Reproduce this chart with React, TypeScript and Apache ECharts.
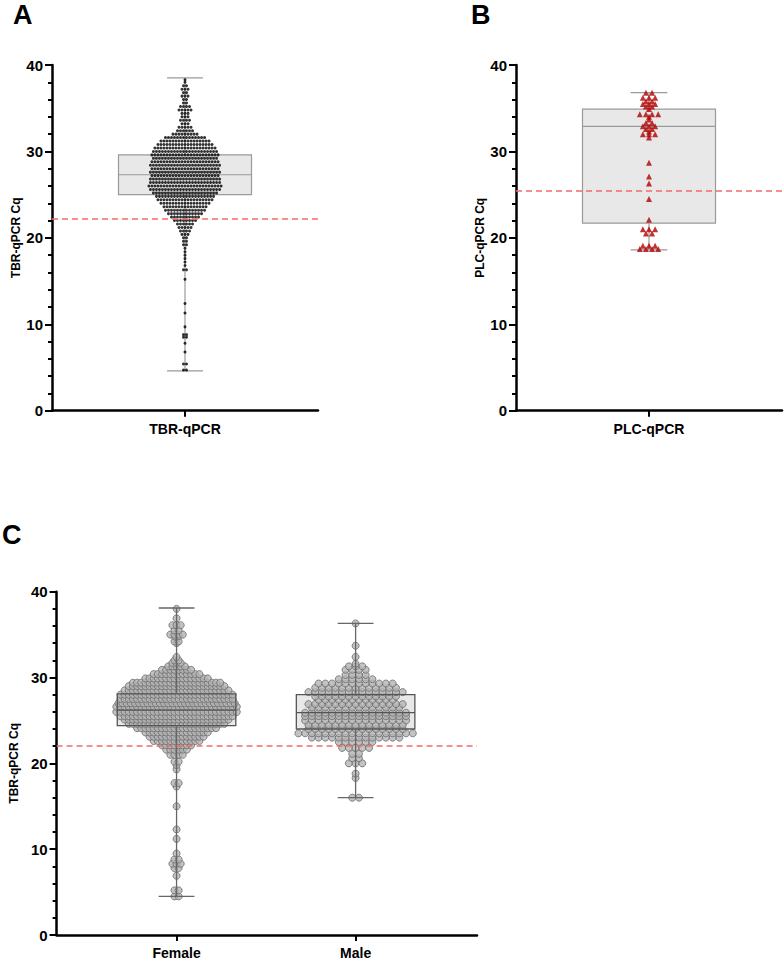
import React, { useEffect, useRef } from "react";
import * as echarts from "echarts";

// ---------- Data ----------
const A_CATEGORIES = ["TBR-qPCR"];
const B_CATEGORIES = ["PLC-qPCR"];
const C_CATEGORIES = ["Female", "Male"];

// Panel A: TBR-qPCR Cq values, binned rows (value level, number of points)
const A_LEVELS = [4.7, 5.4, 6.8, 7.8, 8.5, 8.8, 9.7, 11.3, 12.4, 15.2, 16.3, 16.8, 17.2, 17.6, 18.0, 18.4, 18.8, 19.2, 19.6, 20.0, 20.4, 20.8, 21.2, 21.6, 22.0, 22.4, 22.8, 23.2, 23.6, 24.0, 24.4, 24.8, 25.2, 25.6, 26.0, 26.4, 26.8, 27.2, 27.6, 28.0, 28.4, 28.8, 29.2, 29.6, 30.0, 30.4, 30.8, 31.2, 31.6, 32.0, 32.4, 32.8, 33.2, 33.6, 34.0, 34.4, 34.8, 35.2, 35.6, 36.0, 36.4, 36.8, 37.2, 37.6, 38.0, 38.3];
const A_COUNTS = [2, 2, 1, 1, 2, 2, 1, 1, 1, 1, 2, 1, 1, 1, 1, 1, 1, 2, 2, 2, 3, 4, 5, 6, 8, 10, 12, 14, 15, 17, 19, 20, 22, 24, 25, 24, 24, 23, 24, 23, 24, 23, 22, 23, 22, 21, 19, 17, 14, 9, 6, 5, 3, 4, 3, 3, 5, 4, 2, 2, 3, 2, 3, 2, 1, 1];
// [min, Q1, median, Q3, max]
const A_BOX = [4.6, 25.0, 27.3, 29.6, 38.5];
const A_CUTOFF = 22.2;

// Panel B: PLC-qPCR Cq values
const B_LEVELS = [18.7, 19.1, 20.5, 21.0, 22.1, 24.5, 26.3, 27.1, 28.7, 31.6, 32.0, 32.3, 32.6, 32.9, 33.3, 33.7, 34.0, 34.3, 34.9, 35.2, 35.5, 35.8, 36.2, 36.8];
const B_COUNTS = [4, 3, 2, 3, 1, 1, 1, 1, 1, 1, 3, 1, 2, 3, 2, 1, 1, 4, 1, 2, 3, 2, 3, 2];
const B_BOX = [18.6, 21.7, 32.9, 34.9, 36.8];
const B_CUTOFF = 25.5;

// Panel C: TBR-qPCR Cq by sex
const F_LEVELS = [4.5, 5.2, 6.9, 7.8, 8.3, 8.8, 9.5, 11.2, 12.3, 15.0, 17.3, 17.7, 19.3, 19.8, 20.2, 21.0, 21.6, 22.1, 22.6, 23.1, 23.6, 24.1, 24.6, 25.1, 25.5, 26.0, 26.6, 27.0, 27.5, 28.0, 28.5, 29.0, 29.4, 29.9, 30.4, 30.9, 31.3, 31.7, 32.0, 32.4, 34.0, 34.2, 34.8, 35.0, 35.5, 36.1, 36.9, 38.0];
const F_COUNTS = [2, 2, 1, 2, 3, 2, 1, 1, 1, 1, 1, 2, 1, 1, 2, 4, 6, 8, 12, 14, 16, 20, 24, 26, 28, 30, 30, 29, 28, 28, 26, 24, 22, 16, 12, 8, 5, 3, 2, 1, 1, 2, 2, 4, 2, 3, 1, 1];
const F_BOX = [4.5, 24.4, 26.2, 28.1, 38.1];

const M_LEVELS = [16.0, 18.3, 18.8, 20.0, 20.6, 21.1, 21.8, 22.5, 23.0, 23.5, 24.0, 24.5, 25.0, 25.5, 25.9, 26.5, 26.9, 27.4, 27.8, 28.3, 28.8, 29.3, 29.8, 30.3, 30.9, 31.3, 31.6, 32.4, 33.7, 36.3];
const M_COUNTS = [2, 1, 1, 3, 2, 2, 5, 6, 14, 18, 15, 15, 16, 16, 16, 14, 15, 12, 13, 15, 13, 12, 6, 4, 4, 3, 1, 1, 1, 1];
const M_BOX = [16.0, 24.0, 25.9, 28.0, 36.3];
const C_CUTOFF = 22.1;

// ---------- helpers ----------
const FONT = '"Liberation Sans", Arial, Helvetica, sans-serif';

function swarm(levels: number[], counts: number[], center: number, step: number) {
  const pts: number[][] = [];
  levels.forEach((v, i) => {
    const n = counts[i];
    for (let k = 0; k < n; k++) {
      pts.push([center + (k - (n - 1) / 2) * step, v]);
    }
  });
  return pts;
}

function boxRender(halfW: number, capHalf: number, o: any) {
  return (params: any, api: any) => {
    const x = api.value(0);
    const lo = api.value(1), q1 = api.value(2), med = api.value(3), q3 = api.value(4), hi = api.value(5);
    const tl = api.coord([x - halfW, q3]);
    const br = api.coord([x + halfW, q1]);
    const children: any[] = [];
    if (o.fill) {
      children.push({
        type: "rect",
        shape: { x: tl[0], y: tl[1], width: br[0] - tl[0], height: br[1] - tl[1] },
        style: { fill: o.fill, stroke: null },
      });
    }
    if (o.stroke) {
      const ls = { stroke: o.stroke, lineWidth: o.lw, fill: null };
      const ws = { stroke: o.whisker, lineWidth: o.lw, fill: null };
      children.push({
        type: "rect",
        shape: { x: tl[0], y: tl[1], width: br[0] - tl[0], height: br[1] - tl[1] },
        style: ls,
      });
      const mL = api.coord([x - halfW, med]);
      const mR = api.coord([x + halfW, med]);
      children.push({ type: "line", shape: { x1: mL[0], y1: mL[1], x2: mR[0], y2: mR[1] }, style: ls });
      const pq3 = api.coord([x, q3]);
      const phi = api.coord([x, hi]);
      const pq1 = api.coord([x, q1]);
      const plo = api.coord([x, lo]);
      children.push({ type: "line", shape: { x1: pq3[0], y1: pq3[1], x2: phi[0], y2: phi[1] }, style: ws });
      children.push({ type: "line", shape: { x1: pq1[0], y1: pq1[1], x2: plo[0], y2: plo[1] }, style: ws });
      const cHL = api.coord([x - capHalf, hi]);
      const cHR = api.coord([x + capHalf, hi]);
      const cLL = api.coord([x - capHalf, lo]);
      const cLR = api.coord([x + capHalf, lo]);
      children.push({ type: "line", shape: { x1: cHL[0], y1: cHL[1], x2: cHR[0], y2: cHR[1] }, style: ws });
      children.push({ type: "line", shape: { x1: cLL[0], y1: cLL[1], x2: cLR[0], y2: cLR[1] }, style: ws });
    }
    return { type: "group", children };
  };
}

function makeXAxis(grid: number, min: number, max: number, cats: string[]) {
  const vals = cats.map((_, i) => i);
  return {
    type: "value",
    gridIndex: grid,
    min,
    max,
    axisLine: { show: true, onZero: false, lineStyle: { color: "#000", width: 2.5 } },
    axisTick: { show: true, customValues: vals, length: 6, lineStyle: { color: "#000", width: 2 } },
    axisLabel: {
      customValues: vals,
      formatter: (v: number) => cats[Math.round(v)] ?? "",
      fontWeight: "bold",
      fontSize: 14,
      color: "#000",
      fontFamily: FONT,
      margin: 11,
    },
    splitLine: { show: false },
  };
}

function makeYAxis(grid: number, name: string) {
  return {
    type: "value",
    gridIndex: grid,
    min: 0,
    max: 40,
    interval: 10,
    name,
    nameLocation: "middle",
    nameGap: 30,
    nameTextStyle: { fontWeight: "bold", fontSize: 12, color: "#000", fontFamily: FONT },
    axisLine: { show: true, onZero: false, lineStyle: { color: "#000", width: 2.5 } },
    axisTick: { show: true, length: 7, lineStyle: { color: "#000", width: 2 } },
    minorTick: { show: true, splitNumber: 5, length: 4, lineStyle: { color: "#000", width: 2 } },
    axisLabel: { fontWeight: "bold", fontSize: 15, color: "#000", fontFamily: FONT, margin: 9 },
    splitLine: { show: false },
    minorSplitLine: { show: false },
  };
}

function cutoffLine(v: number) {
  return {
    silent: true,
    symbol: ["none", "none"],
    label: { show: false },
    lineStyle: { color: "#f26b6b", width: 1.5, type: [6, 4] },
    data: [{ yAxis: v }],
  };
}

export default function App() {
  const ref = useRef<HTMLDivElement>(null);
  useEffect(() => {
    document.body.style.margin = "0";
    if (!ref.current) return;
    const chart = echarts.init(ref.current, undefined, { renderer: "svg" });

    const aStep = 0.0226; // x spacing between dots (axis units)
    const bStep = 0.046;
    const fStep = 0.0232;
    const mStep = 0.0376;

    const option: any = {
      animation: false,
      backgroundColor: "#fff",
      textStyle: { fontFamily: FONT },
      grid: [
        { left: 52, top: 65, width: 266, height: 345.7 },
        { left: 516, top: 65, width: 266, height: 345.7 },
        { left: 52, top: 591.7, width: 425, height: 344 },
      ],
      xAxis: [
        makeXAxis(0, -1, 1, A_CATEGORIES),
        makeXAxis(1, -1, 1, B_CATEGORIES),
        makeXAxis(2, -0.67, 1.678, C_CATEGORIES),
      ],
      yAxis: [
        makeYAxis(0, "TBR-qPCR Cq"),
        makeYAxis(1, "PLC-qPCR Cq"),
        makeYAxis(2, "TBR-qPCR Cq"),
      ],
      graphic: [
        { type: "text", left: 13, top: 1, style: { text: "A", fontSize: 27, fontWeight: "bold", fontFamily: FONT, fill: "#000" } },
        { type: "text", left: 471, top: 1, style: { text: "B", fontSize: 27, fontWeight: "bold", fontFamily: FONT, fill: "#000" } },
        { type: "text", left: 2, top: 521, style: { text: "C", fontSize: 27, fontWeight: "bold", fontFamily: FONT, fill: "#000" } },
      ],
      series: [
        // Panel A
        {
          type: "custom",
          xAxisIndex: 0,
          yAxisIndex: 0,
          z: 1,
          renderItem: boxRender(0.5, 0.135, { fill: "#e8e8e8", stroke: "#9a9a9a", whisker: "#9a9a9a", lw: 1.2 }),
          encode: { x: 0, y: [1, 2, 3, 4, 5] },
          data: [[0, ...A_BOX]],
        },
        {
          type: "scatter",
          xAxisIndex: 0,
          yAxisIndex: 0,
          z: 2,
          symbol: "circle",
          symbolSize: 3,
          itemStyle: { color: "#000" },
          data: swarm(A_LEVELS, A_COUNTS, 0, aStep),
          markLine: cutoffLine(A_CUTOFF),
        },
        // Panel B
        {
          type: "custom",
          xAxisIndex: 1,
          yAxisIndex: 1,
          z: 1,
          renderItem: boxRender(0.5, 0.138, { fill: "#e8e8e8", stroke: "#9a9a9a", whisker: "#9a9a9a", lw: 1.2 }),
          encode: { x: 0, y: [1, 2, 3, 4, 5] },
          data: [[0, ...B_BOX]],
        },
        {
          type: "scatter",
          xAxisIndex: 1,
          yAxisIndex: 1,
          z: 2,
          symbol: "triangle",
          symbolSize: 6,
          itemStyle: { color: "#b00000" },
          data: swarm(B_LEVELS, B_COUNTS, 0, bStep),
          markLine: cutoffLine(B_CUTOFF),
        },
        // Panel C
        {
          type: "custom",
          xAxisIndex: 2,
          yAxisIndex: 2,
          z: 1,
          renderItem: boxRender(0.331, 0.1, { fill: "#e8e8e8" }),
          encode: { x: 0, y: [1, 2, 3, 4, 5] },
          data: [[0, ...F_BOX], [1, ...M_BOX]],
        },
        {
          type: "scatter",
          xAxisIndex: 2,
          yAxisIndex: 2,
          z: 2,
          symbol: "circle",
          symbolSize: 7,
          itemStyle: { color: "#b4b4b4", borderColor: "#6a6a6a", borderWidth: 1 },
          data: swarm(F_LEVELS, F_COUNTS, 0, fStep).concat(swarm(M_LEVELS, M_COUNTS, 1, mStep)),
        },
        {
          type: "custom",
          xAxisIndex: 2,
          yAxisIndex: 2,
          z: 3,
          renderItem: boxRender(0.331, 0.1, { stroke: "#555", whisker: "#666", lw: 1.3 }),
          encode: { x: 0, y: [1, 2, 3, 4, 5] },
          data: [[0, ...F_BOX], [1, ...M_BOX]],
          markLine: cutoffLine(C_CUTOFF),
        },
      ],
    };
    chart.setOption(option);
    return () => chart.dispose();
  }, []);
  return <div ref={ref} style={{ width: 784, height: 960 }} />;
}
